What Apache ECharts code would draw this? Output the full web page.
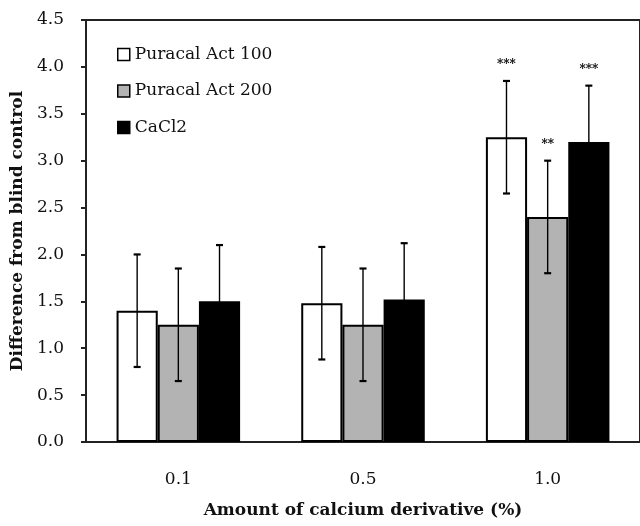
<!DOCTYPE html>
<html>
<head>
<meta charset="utf-8">
<script src="https://cdn.jsdelivr.net/npm/echarts@6/dist/echarts.min.js"></script>
<style>
  html, body { margin: 0; padding: 0; background: #fff; }
  #chart { width: 640px; height: 526px; }
</style>
</head>
<body>
<div id="chart"></div>
<script>
// data
var categories = ["0.1", "0.5", "1.0"];
var seriesNames = ["Puracal Act 100", "Puracal Act 200", "CaCl2"];
var act100 = [1.40, 1.48, 3.25];
var act200 = [1.25, 1.25, 2.40];
var cacl2 = [1.50, 1.52, 3.20];
var err100 = [0.60, 0.60, 0.60];
var err200 = [0.60, 0.60, 0.60];
var errCa = [0.60, 0.60, 0.60];
var sig100 = ["", "", "***"];
var sig200 = ["", "", "**"];
var sigCa = ["", "", "***"];

var fontFam = "'DejaVu Serif', serif";
var barColors = ["#ffffff", "#b3b3b3", "#000000"];
var values = [act100, act200, cacl2];
var errs = [err100, err200, errCa];
var sigs = [sig100, sig200, sigCa];
var barPct = 0.223;

function barSeries(k) {
	return {
		name: seriesNames[k],
		type: "bar",
		data: values[k],
		barWidth: (barPct * 100) + "%",
		barGap: "0%",
		itemStyle: { color: barColors[k], borderColor: "#000", borderWidth: 2 },
		silent: true
	};
}

// error bars and significance marks, drawn on the same category scale
function errSeries(k) {
	var data = [];
	for (var i = 0; i < categories.length; i++) {
		data.push([i, values[k][i], errs[k][i], sigs[k][i]]);
	}
	return {
		type: "custom",
		silent: true,
		z: 5,
		data: data,
		renderItem: function (params, api) {
			var idx = api.value(0);
			var v = api.value(1);
			var e = api.value(2);
			var band = api.size([1, 0])[0];
			var off = (k - 1) * band * barPct;
			var top = api.coord([idx, v + e]);
			var bot = api.coord([idx, v - e]);
			var x = top[0] + off;
			var cap = 3.5;
			var kids = [
				{ type: "line", shape: { x1: x, y1: top[1], x2: x, y2: bot[1] }, style: { stroke: "#000", lineWidth: 1.4 } },
				{ type: "line", shape: { x1: x - cap, y1: top[1], x2: x + cap, y2: top[1] }, style: { stroke: "#000", lineWidth: 2.2 } },
				{ type: "line", shape: { x1: x - cap, y1: bot[1], x2: x + cap, y2: bot[1] }, style: { stroke: "#000", lineWidth: 2.2 } }
			];
			var s = data[params.dataIndex][3];
			if (s) {
				kids.push({
					type: "text",
					style: {
						text: s, x: x, y: top[1] - 16,
						align: "center", verticalAlign: "middle",
						font: "bold 12px " + fontFam, fill: "#000"
					}
				});
			}
			return { type: "group", children: kids };
		}
	};
}

var chart = echarts.init(document.getElementById("chart"));
chart.setOption({
	animation: false,
	backgroundColor: "#fff",
	grid: {
		left: 86, right: -9, top: 20, bottom: 84,
		show: true, borderColor: "#222", borderWidth: 2, backgroundColor: "transparent"
	},
	legend: {
		orient: "vertical",
		left: 112, top: 41,
		itemWidth: 12, itemHeight: 12, itemGap: 19.5,
		icon: "rect",
		data: seriesNames,
		textStyle: { fontFamily: fontFam, fontSize: 17, color: "#111" },
		itemStyle: { borderColor: "#000", borderWidth: 1.5 }
	},
	xAxis: {
		type: "category",
		data: categories,
		name: "Amount of calcium derivative (%)",
		nameLocation: "middle",
		nameGap: 60,
		nameTextStyle: { fontFamily: fontFam, fontSize: 17, fontWeight: "bold", color: "#111" },
		axisLine: { lineStyle: { color: "#222", width: 2 } },
		axisTick: { inside: true, length: 5, lineStyle: { color: "#222", width: 2 } },
		axisLabel: { margin: 29, fontFamily: fontFam, fontSize: 17, color: "#111" }
	},
	yAxis: {
		type: "value",
		min: 0, max: 4.5, interval: 0.5,
		name: "Difference from blind control",
		nameLocation: "middle",
		nameGap: 60,
		nameTextStyle: { fontFamily: fontFam, fontSize: 17, fontWeight: "bold", color: "#111" },
		splitLine: { show: false },
		axisLine: { show: true, lineStyle: { color: "#222", width: 2 } },
		axisTick: { show: true, length: 5, lineStyle: { color: "#222", width: 2 } },
		axisLabel: {
			margin: 22, fontFamily: fontFam, fontSize: 17, color: "#111",
			formatter: function (v) { return v.toFixed(1); }
		}
	},
	series: [barSeries(0), barSeries(1), barSeries(2), errSeries(0), errSeries(1), errSeries(2)]
});
</script>
</body>
</html>
